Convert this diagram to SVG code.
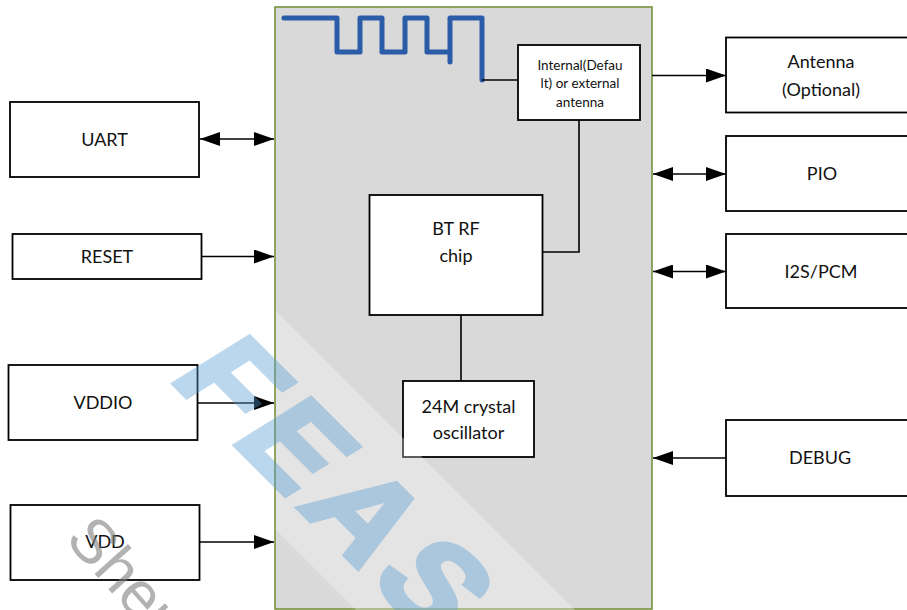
<svg xmlns="http://www.w3.org/2000/svg" width="907" height="610" viewBox="0 0 907 610">
<style>
.box{fill:#fff;stroke:#000;stroke-width:1.8}
.lbl{font-family:Lato,"Liberation Sans",sans-serif;font-size:18px;fill:#111;text-anchor:middle}
.small{font-size:13.5px}
.con{fill:none;stroke:#000;stroke-width:1.6}
</style>
<defs>
<marker id="arr" markerUnits="userSpaceOnUse" viewBox="0 0 20 14" markerWidth="20" markerHeight="14" refX="20" refY="7" orient="auto-start-reverse">
<path d="M0,0 L20,7 L0,14 Z" fill="#000"/>
</marker>
</defs>
<rect width="907" height="610" fill="#fff"/>
<g id="module">
<rect x="275" y="7" width="377" height="602" fill="#d9d9d9" stroke="#77933c" stroke-width="1.6"/>
<path d="M284,18 H337 V52 H360 V18 H382 V52 H405 V18 H427 V52 H450 M450,62 V18 H482 V80" fill="none" stroke="#2a5ca8" stroke-width="5" stroke-linecap="round" stroke-linejoin="round"/>
</g>
<g id="internal">
<rect class="box" x="518" y="45" width="122" height="75"/>
<text class="lbl small" x="580" y="69.5">Internal(Defau</text>
<text class="lbl small" x="580" y="88">lt) or external</text>
<text class="lbl small" x="580" y="106.5">antenna</text>
</g>
<g id="chip">
<rect class="box" x="369.5" y="195" width="173" height="120"/>
<text class="lbl" x="456" y="235">BT RF</text>
<text class="lbl" x="456" y="262">chip</text>
</g>
<g id="crystal">
<rect class="box" x="403" y="381" width="131" height="76"/>
<text class="lbl" x="468.5" y="413">24M crystal</text>
<text class="lbl" x="468.5" y="439">oscillator</text>
</g>
<g id="uart"><rect class="box" x="10" y="102" width="189" height="75"/><text class="lbl" x="104.5" y="146">UART</text></g>
<g id="reset"><rect class="box" x="12.5" y="234" width="189" height="45"/><text class="lbl" x="107" y="263">RESET</text></g>
<g id="vddio"><rect class="box" x="8.5" y="365" width="189" height="75"/><text class="lbl" x="103" y="409">VDDIO</text></g>
<g id="vdd"><rect class="box" x="10.5" y="505" width="189" height="75"/><text class="lbl" x="105" y="548">VDD</text></g>
<g id="antenna"><rect class="box" x="726" y="37.5" width="200" height="75"/><text class="lbl" x="821" y="68">Antenna</text><text class="lbl" x="821" y="96">(Optional)</text></g>
<g id="pio"><rect class="box" x="726" y="136" width="200" height="75"/><text class="lbl" x="822" y="180">PIO</text></g>
<g id="i2s"><rect class="box" x="726" y="234" width="200" height="74"/><text class="lbl" x="821" y="278">I2S/PCM</text></g>
<g id="debug"><rect class="box" x="726" y="420" width="200" height="76"/><text class="lbl" x="820" y="464">DEBUG</text></g>
<g id="connectors">
<path class="con" d="M482,80 H518"/>
<path class="con" d="M579,120 V252 H543"/>
<path class="con" d="M461,315 V381"/>
<path class="con" d="M200,139 H274" marker-start="url(#arr)" marker-end="url(#arr)"/>
<path class="con" d="M202,256.5 H274" marker-end="url(#arr)"/>
<path class="con" d="M198,403 H274" marker-end="url(#arr)"/>
<path class="con" d="M200,542 H274" marker-end="url(#arr)"/>
<path class="con" d="M652,75.5 H726" marker-end="url(#arr)"/>
<path class="con" d="M653,174 H726" marker-start="url(#arr)" marker-end="url(#arr)"/>
<path class="con" d="M653,271.5 H726" marker-start="url(#arr)" marker-end="url(#arr)"/>
<path class="con" d="M726,458 H653" marker-end="url(#arr)"/>
</g>
<g id="watermark">
<polygon points="276,311 700,735 481,735 276,530" fill="#fff" opacity="0.3"/>
<text transform="translate(168,378) rotate(45) skewX(-13)" font-family="'Liberation Sans',sans-serif" font-weight="bold" font-size="126" letter-spacing="10" fill="#579dd4" stroke="#579dd4" stroke-width="5" opacity="0.4">FEAS</text>
<text transform="translate(64,540) rotate(48)" font-family="'Liberation Sans',sans-serif" font-size="62" fill="#808080" opacity="0.6">Shen</text>
</g>
</svg>
